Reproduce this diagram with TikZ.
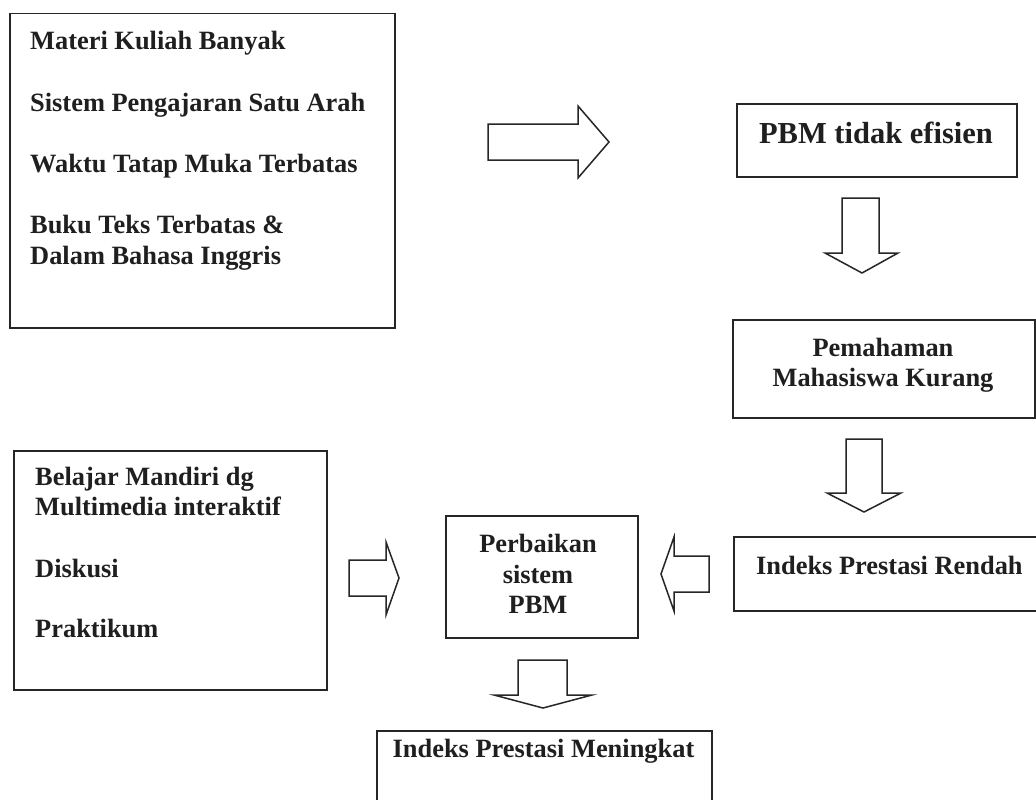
\documentclass[tikz,border=0pt]{standalone}
\usepackage{fontspec}
\setmainfont{Liberation Serif}
\tikzset{
  box/.style={draw=black!85, line width=1.5pt, rectangle, inner sep=0pt, anchor=north west},
  txt/.style={font=\fontsize{26.4pt}{30.4pt}\selectfont\bfseries, inner sep=0pt, text=black!88},
  bigtxt/.style={font=\fontsize{30.5pt}{35pt}\selectfont\bfseries, inner sep=0pt, text=black!88},
  blockarrow/.style={draw=black!85, line width=1.5pt, line join=miter, fill=white},
}
\begin{document}
\begin{tikzpicture}[x=1pt,y=-1pt]
\useasboundingbox (0,0) rectangle (1036,800);
\fill[white] (0,0) rectangle (1036,800);
\begin{scope}
\clip (0,0) rectangle (1036,800);
% top-left box
\node[box, minimum width=385pt, minimum height=314pt] (b1) at (9,13) {};
\node[txt, anchor=base west] (t1a) at (30,50) {Materi Kuliah Banyak};
\node[txt, anchor=base west] (t1b) at (30,111) {Sistem Pengajaran Satu Arah};
\node[txt, anchor=base west] (t1c) at (30,172) {Waktu Tatap Muka Terbatas};
\node[txt, anchor=base west] (t1d) at (30,233) {Buku Teks Terbatas \&};
\node[txt, anchor=base west] (t1e) at (30,264) {Dalam Bahasa Inggris};
% PBM tidak efisien
\node[box, minimum width=280pt, minimum height=73pt] (b2) at (736,103) {};
\node[bigtxt, anchor=base] (t2) at (876,143) {PBM tidak efisien};
% Pemahaman
\node[box, minimum width=302pt, minimum height=98pt] (b3) at (732,319) {};
\node[txt, anchor=base] (t3a) at (883,356) {Pemahaman};
\node[txt, anchor=base] (t3b) at (883,386) {Mahasiswa Kurang};
% Indeks Prestasi Rendah
\node[box, minimum width=313pt, minimum height=74pt] (b4) at (733,536) {};
\node[txt, anchor=base west] (t4) at (756,574) {Indeks Prestasi Rendah};
% Perbaikan sistem PBM
\node[box, minimum width=192pt, minimum height=122pt] (b5) at (445,515) {};
\node[txt, anchor=base] (t5a) at (538,552) {Perbaikan};
\node[txt, anchor=base] (t5b) at (538,583) {sistem};
\node[txt, anchor=base] (t5c) at (538,613) {PBM};
% bottom-left box
\node[box, minimum width=313pt, minimum height=239pt] (b6) at (13,450) {};
\node[txt, anchor=base west] (t6a) at (35,485) {Belajar Mandiri dg};
\node[txt, anchor=base west] (t6b) at (35,515) {Multimedia interaktif};
\node[txt, anchor=base west] (t6c) at (35,577) {Diskusi};
\node[txt, anchor=base west] (t6d) at (35,637) {Praktikum};
% Indeks Prestasi Meningkat
\node[box, minimum width=335pt, minimum height=100pt] (b7) at (376,730) {};
\node[txt, anchor=base] (t7) at (543.5,757) {Indeks Prestasi Meningkat};
% block arrows
\draw[blockarrow] (488,124) -- (578,124) -- (578,106) -- (609,142) -- (578,178) -- (578,160) -- (488,160) -- cycle;
\draw[blockarrow] (842,198) -- (879,198) -- (879,253) -- (898,253) -- (862,273) -- (825,253) -- (842,253) -- cycle;
\draw[blockarrow] (846,439) -- (882,439) -- (882,493) -- (901,493) -- (864,512) -- (827,493) -- (846,493) -- cycle;
\draw[blockarrow] (709,556) -- (674,556) -- (674,537) -- (661,574) -- (674,611) -- (674,592) -- (709,592) -- cycle;
\draw[blockarrow] (349,560) -- (386,560) -- (386,542) -- (399,578) -- (386,615) -- (386,596) -- (349,596) -- cycle;
\draw[blockarrow] (518,660) -- (567,660) -- (567,695) -- (592,695) -- (543,708) -- (494,695) -- (518,695) -- cycle;
\end{scope}
\end{tikzpicture}
\end{document}
